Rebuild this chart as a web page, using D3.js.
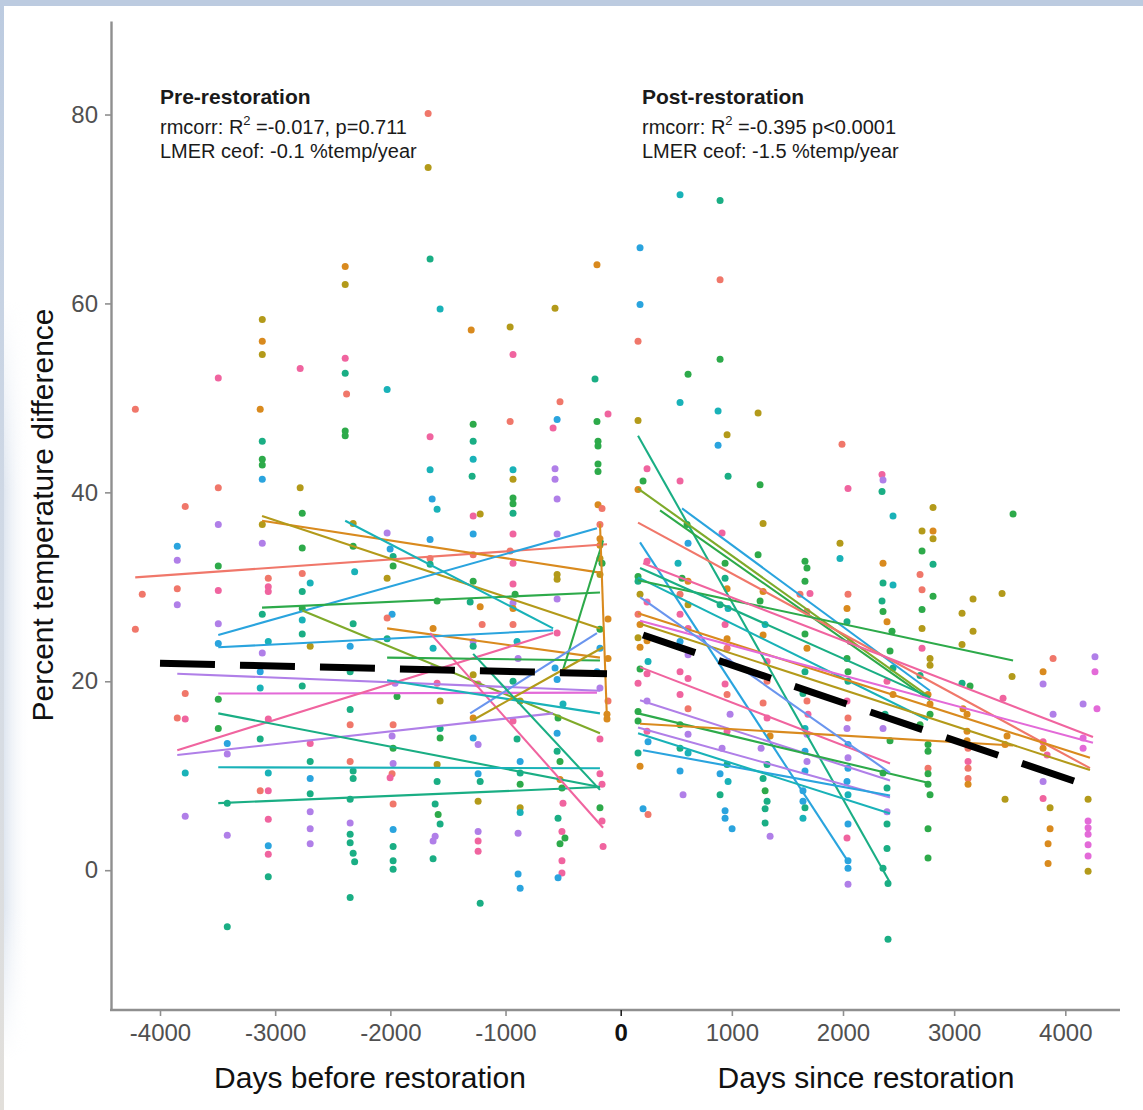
<!DOCTYPE html>
<html><head><meta charset="utf-8">
<script src="https://cdn.jsdelivr.net/npm/d3@7"></script>
<style>
body{margin:0;background:#fff}
svg{display:block}
text{font-family:"Liberation Sans", Arial, Helvetica, sans-serif}
</style>
</head><body>
<svg id="chart" width="1143" height="1110"></svg>
<script>
// ---------------- data ----------------
const palette = ["#F0776A","#D98A1E","#B39A1A","#7FAA2A","#2DAA4A","#1AAE84",
                 "#19B2B8","#2AA4DE","#6A95EE","#B07FE8","#E36AD8","#F0649F"];
const preTicks = [-4000, -3000, -2000, -1000];
const postTicks = [0, 1000, 2000, 3000, 4000];
const yTicks = [0, 20, 40, 60, 80];

// [day, value, site]
const prePoints = [
[-4214,48.8,0],[-4154,29.2,0],[-4214,25.5,0],
[-3850,34.3,7],[-3850,32.8,9],[-3850,29.8,0],[-3850,28.1,9],[-3781,38.5,0],[-3781,18.7,0],[-3850,16.1,0],[-3781,16.0,11],[-3781,10.3,6],[-3781,5.7,9],
[-3494,52.1,11],[-3494,40.5,0],[-3494,36.6,9],[-3494,32.2,4],[-3494,29.6,11],[-3494,26.1,9],[-3494,24.0,7],[-3494,18.1,4],[-3494,15.0,4],[-3416,13.4,7],[-3416,12.3,9],[-3416,7.1,5],[-3416,3.7,9],[-3416,-6.0,5],
[-3112,58.3,2],[-3112,56.0,1],[-3112,54.6,2],[-3130,48.8,1],[-3112,45.4,5],[-3112,43.5,4],[-3112,42.9,4],[-3112,41.4,7],[-3112,36.6,2],[-3112,34.6,9],[-3060,30.9,0],[-3060,30.0,11],[-3060,29.5,11],[-3112,27.1,5],[-3060,24.2,6],[-3112,23.0,9],[-3130,21.0,7],[-3130,19.3,6],[-3060,16.0,11],[-3130,13.9,5],[-3060,10.3,6],[-3130,8.4,0],[-3060,8.4,11],[-3060,5.4,11],[-3060,2.6,7],[-3060,1.7,11],[-3060,-0.7,5],
[-2783,53.1,11],[-2783,40.5,2],[-2765,37.8,4],[-2765,34.1,4],[-2765,31.4,0],[-2696,30.4,6],[-2765,29.5,5],[-2765,27.7,4],[-2765,26.5,6],[-2765,25.0,5],[-2696,23.7,2],[-2765,19.5,5],[-2696,13.4,11],[-2696,11.5,5],[-2696,9.7,7],[-2696,8.1,5],[-2696,6.2,9],[-2696,4.4,9],[-2696,2.8,9],
[-2392,63.9,1],[-2392,62.0,2],[-2392,54.2,11],[-2392,52.6,5],[-2380,50.4,0],[-2392,46.5,4],[-2392,46.0,4],[-2323,36.7,2],[-2323,34.3,4],[-2310,31.6,6],[-2323,26.1,5],[-2349,23.7,7],[-2349,21.0,5],[-2349,17.0,5],[-2349,15.4,0],[-2349,11.5,0],[-2323,10.5,5],[-2323,9.7,5],[-2349,7.5,5],[-2349,5.0,9],[-2349,3.8,5],[-2349,2.9,5],[-2323,1.8,5],[-2310,0.9,5],[-2349,-2.9,5],
[-2028,50.9,6],[-2028,35.7,9],[-2002,34.0,7],[-1976,33.2,5],[-1976,32.2,4],[-2028,30.9,2],[-1985,27.1,7],[-2028,26.7,0],[-2028,24.5,5],[-1959,19.8,9],[-1942,18.4,4],[-1976,15.4,0],[-1985,14.2,9],[-1976,12.9,4],[-1976,11.3,9],[-1985,10.2,0],[-2002,9.8,11],[-1976,7.0,0],[-1976,4.3,7],[-1976,2.5,5],[-1976,1.0,5],[-1976,0.1,5],
[-1672,80.1,0],[-1672,74.4,2],[-1655,64.7,5],[-1568,59.4,6],[-1655,45.9,11],[-1655,42.4,6],[-1637,39.3,7],[-1594,38.2,6],[-1655,35.0,7],[-1655,33.0,0],[-1655,32.4,5],[-1594,28.5,4],[-1629,25.6,1],[-1629,23.5,6],[-1629,21.4,9],[-1594,19.8,11],[-1568,17.9,2],[-1568,15.0,5],[-1568,14.0,4],[-1594,11.2,2],[-1594,9.4,5],[-1611,7.0,5],[-1585,5.9,4],[-1568,4.9,5],[-1611,3.6,9],[-1629,3.1,9],[-1629,1.2,5],
[-1298,57.2,1],[-1281,47.2,4],[-1281,45.4,5],[-1281,43.5,6],[-1290,41.7,5],[-1281,37.5,11],[-1220,37.7,2],[-1281,35.6,7],[-1281,33.4,0],[-1281,30.6,4],[-1220,27.9,1],[-1307,28.4,5],[-1203,26.0,0],[-1281,24.2,9],[-1281,23.7,5],[-1281,20.7,2],[-1238,19.7,11],[-1281,16.1,1],[-1281,14.0,7],[-1238,13.3,9],[-1238,10.2,7],[-1220,9.4,5],[-1238,7.3,2],[-1238,4.1,9],[-1238,3.1,11],[-1238,2.0,11],[-1220,-3.5,5],
[-960,57.5,2],[-935,54.6,11],[-960,47.5,0],[-935,42.4,6],[-935,41.4,2],[-935,39.4,4],[-935,38.8,4],[-935,37.8,5],[-935,35.6,11],[-960,33.8,0],[-935,32.5,11],[-935,30.3,11],[-917,29.2,4],[-935,28.3,9],[-935,27.7,1],[-935,26.0,0],[-900,24.2,6],[-891,22.4,9],[-935,20.0,5],[-873,17.9,2],[-935,15.8,11],[-900,13.9,5],[-873,11.5,7],[-873,10.3,5],[-873,9.1,4],[-873,6.6,2],[-873,6.1,6],[-891,3.9,9],[-891,-0.4,7],[-873,-1.9,7],
[-570,59.5,2],[-527,49.6,0],[-552,47.7,7],[-587,46.8,11],[-570,42.5,9],[-570,41.4,9],[-552,39.3,9],[-552,35.6,9],[-552,31.3,2],[-552,30.8,2],[-552,28.7,9],[-552,25.1,11],[-570,21.4,7],[-552,20.2,7],[-501,17.6,6],[-544,16.1,4],[-552,14.5,7],[-552,12.6,5],[-527,11.5,4],[-527,9.6,1],[-510,8.7,4],[-501,7.1,11],[-544,5.5,5],[-510,4.1,11],[-484,3.4,4],[-527,2.8,4],[-510,1.0,11],[-510,-0.3,11],[-544,-0.8,7],
[-206,64.1,1],[-223,52.0,5],[-110,48.3,11],[-206,47.5,4],[-197,45.4,4],[-197,44.9,4],[-197,43.0,4],[-197,42.2,4],[-197,38.7,1],[-162,38.3,0],[-180,36.6,0],[-180,35.1,1],[-180,34.4,1],[-180,33.0,2],[-162,32.5,4],[-180,31.3,2],[-110,26.6,1],[-180,25.5,4],[-180,23.5,7],[-110,22.4,1],[-206,21.0,7],[-180,19.3,9],[-110,17.9,0],[-119,16.5,1],[-119,16.0,1],[-180,13.9,11],[-180,10.2,11],[-162,9.1,11],[-180,6.6,4],[-162,5.2,11],[-153,2.5,11]
];

const postPoints = [
[174,65.9,7],[174,59.9,7],[156,56.0,0],[156,47.6,2],[237,42.5,11],[201,41.2,4],[156,40.3,1],[237,32.7,11],[156,31.1,4],[156,30.6,5],[174,29.2,2],[237,28.4,11],[156,27.1,0],[174,26.0,1],[156,24.6,2],[237,24.3,1],[174,23.6,1],[246,22.1,6],[174,21.3,4],[237,20.8,11],[156,19.8,11],[237,17.9,9],[156,16.8,4],[156,15.8,4],[237,14.7,11],[246,13.6,7],[156,12.4,5],[174,11.0,1],[201,6.5,7],[246,5.9,0],
[534,71.5,6],[606,52.5,4],[534,49.5,6],[534,41.2,11],[597,36.6,4],[606,34.6,7],[516,32.5,6],[552,30.9,4],[606,30.6,1],[534,29.2,0],[606,28.1,2],[534,27.1,11],[606,25.6,11],[534,24.2,7],[606,22.8,9],[534,21.0,11],[606,20.3,11],[534,18.6,11],[606,17.1,0],[534,15.4,4],[606,14.4,9],[534,12.9,5],[606,12.4,6],[534,10.5,7],[561,8.0,9],
[894,70.9,5],[894,62.5,0],[894,54.1,4],[876,48.6,6],[957,46.1,2],[876,45.0,7],[966,41.7,5],[912,35.7,11],[939,32.5,4],[939,30.9,5],[957,29.8,1],[894,28.1,5],[966,27.7,6],[939,26.0,11],[957,24.5,1],[957,23.5,0],[966,22.1,11],[939,19.7,11],[957,18.6,0],[984,16.5,9],[957,14.7,11],[912,12.9,9],[957,11.2,5],[894,10.2,7],[966,9.4,6],[894,8.0,5],[939,6.3,7],[939,5.5,7],[1002,4.4,7],
[1236,48.4,2],[1254,40.8,4],[1281,36.7,2],[1236,33.4,4],[1281,29.5,1],[1254,28.5,4],[1299,26.0,6],[1281,24.9,1],[1317,22.1,11],[1317,20.0,0],[1281,17.7,0],[1317,16.1,11],[1344,14.2,1],[1263,12.9,9],[1317,11.2,5],[1281,9.7,5],[1299,8.4,4],[1317,7.3,5],[1299,6.5,5],[1299,5.0,5],[1344,3.6,9],
[1658,32.7,4],[1676,32.0,4],[1658,30.6,4],[1703,29.3,11],[1613,29.2,0],[1676,27.4,0],[1658,25.0,4],[1676,23.5,1],[1658,21.0,5],[1640,18.7,5],[1676,17.9,0],[1685,16.5,11],[1658,15.0,6],[1676,14.4,9],[1658,12.6,7],[1676,11.5,9],[1658,10.5,7],[1640,8.4,7],[1640,7.3,7],[1658,6.6,5],[1640,5.5,6],
[1991,45.1,0],[2045,40.4,11],[1973,34.6,2],[1973,33.0,6],[2045,29.2,0],[2036,27.7,1],[2036,26.3,5],[2063,24.2,11],[2036,22.4,4],[2045,21.0,4],[2045,20.0,5],[2036,17.9,11],[2045,16.1,0],[2036,15.0,9],[2045,13.3,7],[2045,11.9,9],[2045,10.8,7],[2036,9.4,7],[2045,8.0,6],[2045,4.9,7],[2036,3.4,11],[2045,1.0,7],[2045,0.2,7],[2045,-1.5,9],
[2351,41.9,11],[2360,41.3,9],[2351,40.1,5],[2450,37.5,6],[2360,32.5,1],[2360,30.4,5],[2450,30.2,6],[2351,28.5,5],[2360,27.4,4],[2396,26.3,1],[2441,25.3,4],[2423,23.2,4],[2450,21.4,5],[2396,20.0,11],[2450,18.6,1],[2378,16.5,5],[2360,15.0,9],[2423,13.7,4],[2360,10.3,4],[2396,8.7,5],[2396,6.2,9],[2396,4.9,5],[2396,2.3,5],[2360,0.2,5],[2405,-1.4,5],[2405,-7.3,5],
[2810,38.4,2],[2711,35.9,2],[2810,35.9,1],[2810,35.1,2],[2711,33.8,4],[2810,32.4,5],[2693,31.3,0],[2711,29.7,0],[2810,29.0,4],[2711,27.6,4],[2711,25.6,2],[2711,23.5,11],[2783,22.4,2],[2783,21.7,2],[2693,20.6,5],[2765,18.6,1],[2783,17.6,1],[2783,16.5,4],[2693,15.4,4],[2765,13.3,4],[2765,12.6,4],[2765,10.8,0],[2765,10.2,4],[2765,9.1,4],[2783,8.0,4],[2765,4.4,4],[2765,1.3,4],
[3170,28.7,2],[3071,27.2,2],[3170,25.3,2],[3071,23.9,2],[3071,19.8,5],[3143,19.5,4],[3080,17.1,1],[3116,16.5,1],[3116,14.7,1],[3116,13.7,1],[3125,12.9,0],[3125,11.5,11],[3125,10.8,0],[3125,9.7,0],[3125,9.1,1],
[3530,37.7,4],[3431,29.3,2],[3521,20.5,2],[3440,18.2,11],[3476,14.2,1],[3458,13.3,1],[3458,7.5,2],
[3890,22.4,0],[3800,21.0,1],[3800,19.7,9],[3890,16.5,9],[3800,13.6,11],[3800,12.9,1],[3836,12.2,11],[3800,9.4,9],[3800,7.6,11],[3863,6.6,2],[3863,4.4,1],[3845,2.8,1],[3845,0.7,1],
[4267,22.6,9],[4267,21.0,10],[4160,17.6,9],[4285,17.1,10],[4160,14.0,10],[4160,12.9,10],[4205,7.5,2],[4205,5.2,10],[4205,4.5,10],[4205,3.8,10],[4205,2.7,10],[4205,1.5,10],[4205,-0.1,2]
];

// per-site fitted lines: [site, day0, value0, day1, value1]
const preLines = [
[0,-4215,31.0,-119,34.5],[1,-3114,37.0,-180,31.5],[2,-3114,37.5,-180,25.6],[7,-3494,24.9,-206,36.2],
[4,-3114,27.8,-180,29.4],[6,-2392,37.0,-587,25.6],[3,-2765,27.5,-180,14.5],[1,-2028,25.6,-180,22.5],
[7,-3494,23.6,-587,25.4],[9,-3850,20.8,-180,19.0],[10,-3494,18.7,-206,18.8],[11,-3850,12.7,-587,25.1],
[9,-3850,12.2,-587,16.6],[5,-3494,16.6,-180,8.8],[6,-3494,10.9,-180,10.8],[5,-3494,7.1,-180,8.8],
[11,-1655,25.1,-153,4.5],[4,-501,21.2,-153,34.9],[1,-180,36.7,-119,15.9],[8,-1307,16.6,-206,25.1],
[4,-2028,22.5,-180,22.2],[6,-2028,20.1,-180,16.6],[2,-1281,15.9,-153,23.6],[5,-1281,22.9,-180,8.5]
];
const postLines = [
[5,156,46.0,2423,-1.3],[3,156,40.4,2783,18.3],[7,552,38.3,2783,19.0],[4,354,38.1,2783,18.0],
[0,156,36.8,4222,10.8],[7,174,34.7,2036,1.1],[6,156,31.0,2765,15.9],[4,156,30.7,3530,22.2],
[11,201,32.5,4249,14.1],[1,156,27.2,4222,11.9],[10,174,26.4,4249,13.5],[11,174,21.5,2423,11.3],
[9,174,18.0,2423,9.5],[4,156,16.6,2783,9.2],[1,174,15.5,3530,13.2],[9,156,15.1,2423,7.7],
[7,201,12.7,2423,7.9],[6,156,14.5,2423,6.0],[2,174,26.1,4222,10.6],[5,174,32.0,2783,18.3],
[8,174,28.9,2423,10.3]
];
// overall LMER trend lines
const preTrend = [[-4000,21.9],[-119,20.8]];
const postTrend = [[201,24.9],[4190,9.0]];

// ---------------- scales ----------------
const xPre = d3.scaleLinear().domain([-4000,0]).range([160,620.7]);
const xPost = d3.scaleLinear().domain([0,4000]).range([620.7,1065.3]);
const y = d3.scaleLinear().domain([-14.8,89.9]).range([1010,21]);

const svg = d3.select("#chart");

// frame
const defs = svg.append("defs");
const lg = defs.append("linearGradient").attr("id","edge").attr("x1",0).attr("y1",0).attr("x2",0).attr("y2",1);
lg.append("stop").attr("offset","0%").attr("stop-color","#bccbe0");
lg.append("stop").attr("offset","55%").attr("stop-color","#d3dbe6");
lg.append("stop").attr("offset","100%").attr("stop-color","#e2dfda");
const hz = defs.append("linearGradient").attr("id","haze").attr("x1",0).attr("y1",0).attr("x2",1).attr("y2",0);
hz.append("stop").attr("offset","0%").attr("stop-color","#dbe3ee").attr("stop-opacity",0.9);
hz.append("stop").attr("offset","100%").attr("stop-color","#ffffff").attr("stop-opacity",0);
const mg = defs.append("linearGradient").attr("id","hazeMaskGrad").attr("x1",0).attr("y1",0).attr("x2",0).attr("y2",1);
mg.append("stop").attr("offset","0%").attr("stop-color","#000");
mg.append("stop").attr("offset","25%").attr("stop-color","#fff");
mg.append("stop").attr("offset","80%").attr("stop-color","#fff");
mg.append("stop").attr("offset","100%").attr("stop-color","#000");
defs.append("mask").attr("id","hazeMask").append("rect")
  .attr("x",0).attr("y",300).attr("width",40).attr("height",760).attr("fill","url(#hazeMaskGrad)");
svg.append("rect").attr("x",0).attr("y",0).attr("width",1143).attr("height",1110).attr("fill","#fff");
svg.append("rect").attr("x",4).attr("y",300).attr("width",26).attr("height",760)
  .attr("fill","url(#haze)").attr("mask","url(#hazeMask)");
svg.append("rect").attr("x",0).attr("y",0).attr("width",1143).attr("height",6).attr("fill","#bccbe0");
svg.append("rect").attr("x",0).attr("y",0).attr("width",4).attr("height",1110).attr("fill","url(#edge)");

// axes
const axisColor = "#8f8f8f";
const yAxis = svg.append("g").attr("transform","translate(111,0)")
  .call(d3.axisLeft(y).tickValues(yTicks).tickSize(6).tickSizeOuter(0).tickPadding(7).tickFormat(d=>String(d)));
yAxis.select(".domain").attr("stroke",axisColor).attr("stroke-width",2.4);
yAxis.selectAll(".tick line").attr("stroke",axisColor).attr("stroke-width",1.6);
yAxis.selectAll(".tick text").attr("font-size",24).attr("fill","#505050")
  .attr("font-family","Liberation Sans, Arial, sans-serif");

svg.append("line").attr("x1",110).attr("x2",1120).attr("y1",1010).attr("y2",1010)
  .attr("stroke",axisColor).attr("stroke-width",2.4);
const xa1 = svg.append("g").attr("transform","translate(0,1010)")
  .call(d3.axisBottom(xPre).tickValues(preTicks).tickSize(6).tickPadding(8).tickFormat(d=>String(d)));
const xa2 = svg.append("g").attr("transform","translate(0,1010)")
  .call(d3.axisBottom(xPost).tickValues(postTicks).tickSize(6).tickPadding(8).tickFormat(d=>String(d)));
[xa1,xa2].forEach(a=>{
  a.select(".domain").remove();
  a.selectAll(".tick line").attr("stroke",axisColor).attr("stroke-width",1.6);
  a.selectAll(".tick text").attr("font-size",24).attr("fill","#505050")
   .attr("font-family","Liberation Sans, Arial, sans-serif");
});
xa2.selectAll(".tick").filter(d=>d===0).select("text").attr("font-weight","bold").attr("fill","#111");
xa2.selectAll(".tick").filter(d=>d===0).select("line").attr("stroke","#222");

// points
const gp = svg.append("g");
gp.selectAll("circle.pre").data(prePoints).join("circle").attr("class","pre")
  .attr("cx",d=>xPre(d[0])).attr("cy",d=>y(d[1])).attr("r",3.5)
  .attr("fill",d=>palette[d[2]]);
gp.selectAll("circle.post").data(postPoints).join("circle").attr("class","post")
  .attr("cx",d=>xPost(d[0])).attr("cy",d=>y(d[1])).attr("r",3.5)
  .attr("fill",d=>palette[d[2]]);

// site lines
const gl = svg.append("g").attr("fill","none").attr("stroke-width",2.1);
gl.selectAll("line.pre").data(preLines).join("line").attr("class","pre")
  .attr("x1",d=>xPre(d[1])).attr("y1",d=>y(d[2])).attr("x2",d=>xPre(d[3])).attr("y2",d=>y(d[4]))
  .attr("stroke",d=>palette[d[0]]);
gl.selectAll("line.post").data(postLines).join("line").attr("class","post")
  .attr("x1",d=>xPost(d[1])).attr("y1",d=>y(d[2])).attr("x2",d=>xPost(d[3])).attr("y2",d=>y(d[4]))
  .attr("stroke",d=>palette[d[0]]);

// trend
const lPre = d3.line().x(d=>xPre(d[0])).y(d=>y(d[1]));
const lPost = d3.line().x(d=>xPost(d[0])).y(d=>y(d[1]));
svg.append("path").attr("d",lPre(preTrend)).attr("fill","none").attr("stroke","#000")
  .attr("stroke-width",7).attr("stroke-dasharray","55,25");
svg.append("path").attr("d",lPost(postTrend)).attr("fill","none").attr("stroke","#000")
  .attr("stroke-width",7).attr("stroke-dasharray","55,25");

// annotations
function annot(x, title, r2, coef){
  const g = svg.append("g").attr("fill","#1a1a1a");
  g.append("text").attr("x",x).attr("y",104).attr("font-size",21).attr("font-weight","bold").text(title);
  const t = g.append("text").attr("x",x).attr("y",134).attr("font-size",20);
  t.append("tspan").text("rmcorr: R");
  t.append("tspan").attr("font-size",13).attr("dy",-9).text("2");
  t.append("tspan").attr("dy",9).text(" =" + r2);
  g.append("text").attr("x",x).attr("y",158).attr("font-size",20).text(coef);
}
annot(160, "Pre-restoration", "-0.017, p=0.711", "LMER ceof: -0.1 %temp/year");
annot(642, "Post-restoration", "-0.395 p<0.0001", "LMER ceof: -1.5 %temp/year");

// titles
svg.append("text").attr("x",370).attr("y",1088).attr("text-anchor","middle").attr("font-size",30)
  .attr("fill","#111").text("Days before restoration");
svg.append("text").attr("x",866).attr("y",1088).attr("text-anchor","middle").attr("font-size",30)
  .attr("fill","#111").text("Days since restoration");
svg.append("text").attr("transform","translate(53,515) rotate(-90)").attr("text-anchor","middle")
  .attr("font-size",30).attr("fill","#111").text("Percent temperature difference");
</script>
</body></html>
